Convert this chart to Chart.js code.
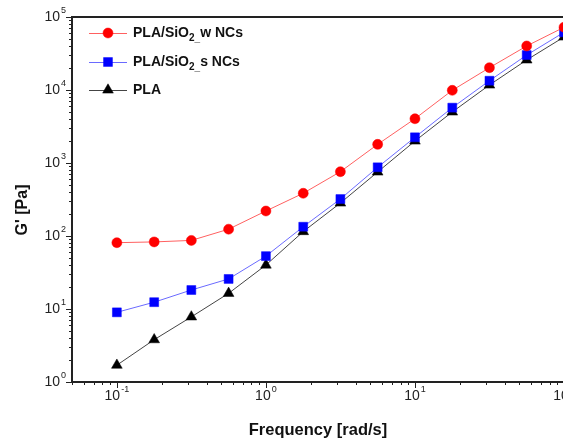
<!DOCTYPE html>
<html>
<head>
<meta charset="utf-8">
<script src="https://cdn.jsdelivr.net/npm/chart.js@4/dist/chart.umd.min.js"></script>
<style>
  html, body { margin: 0; padding: 0; background: #fff; overflow: hidden; }
  #wrap { width: 620px; height: 443px; }
</style>
</head>
<body>
<div id="wrap"><canvas id="chart" width="620" height="443"></canvas></div>
<script>
// angular frequency sweep, rad/s
const freq = [0.1, 0.178, 0.316, 0.562, 1, 1.78, 3.16, 5.62, 10, 17.8, 31.6, 56.2, 100];

// storage modulus G' in Pa
const gWNCs = [81, 83, 87, 124, 220, 385, 760, 1800, 4040, 9900, 20200, 40100, 72300];
const gSNCs = [9.0, 12.4, 18.2, 25.8, 53, 134, 321, 873, 2250, 5730, 13400, 30100, 61700];
const gPLA  = [1.7, 3.8, 7.8, 16.4, 40, 115, 283, 753, 2000, 5000, 11700, 25800, 53200];

const seriesNames = ['PLA/SiO₂_w NCs', 'PLA/SiO₂_s NCs', 'PLA'];

// decade exponents that get a "10^n" label
const xDecades = [-1, 0, 1, 2];
const yDecades = [0, 1, 2, 3, 4, 5];

const yTitle = "G' [Pa]";

function toPoints(ys) {
  return freq.map((f, i) => ({ x: f, y: ys[i] }));
}

const FONT = '"Liberation Sans", Arial, sans-serif';

// draws "10" with a raised exponent; align is 'center' or 'right'
function drawPow(ctx, exp, x, y, align) {
  const base = '10', sup = String(exp);
  ctx.font = '14px ' + FONT;
  const wb = ctx.measureText(base).width;
  ctx.font = '9px ' + FONT;
  const ws = ctx.measureText(sup).width;
  const total = wb + 1 + ws;
  let left = align === 'right' ? x - total : x - total / 2;
  ctx.textAlign = 'left';
  ctx.textBaseline = 'middle';
  ctx.fillStyle = '#222';
  ctx.font = '14px ' + FONT;
  ctx.fillText(base, left, y);
  ctx.font = '9px ' + FONT;
  ctx.fillText(sup, left + wb + 1, y - 6);
}

// frame, tick marks, tick labels, y title and the inset legend
const framePlugin = {
  id: 'frame',
  afterDraw(chart) {
    const { ctx, chartArea: a, scales } = chart;
    ctx.save();
    ctx.strokeStyle = '#222';
    ctx.lineWidth = 2;
    ctx.strokeRect(a.left, a.top, a.right - a.left, a.bottom - a.top);

    ctx.lineWidth = 1;
    ctx.beginPath();
    for (let d = -2; d <= 5; d++) {
      for (let m = 1; m <= 9; m++) {
        const v = m * Math.pow(10, d);
        const len = m === 1 ? 6 : 3;
        if (v >= scales.x.min - 1e-9 && v <= scales.x.max + 1e-9) {
          const px = Math.round(scales.x.getPixelForValue(v)) + 0.5;
          ctx.moveTo(px, a.bottom);
          ctx.lineTo(px, a.bottom + len);
        }
        if (v >= scales.y.min - 1e-9 && v <= scales.y.max + 1e-9) {
          const py = Math.round(scales.y.getPixelForValue(v)) + 0.5;
          ctx.moveTo(a.left, py);
          ctx.lineTo(a.left - len, py);
        }
      }
    }
    ctx.stroke();

    xDecades.forEach(e => {
      drawPow(ctx, e, scales.x.getPixelForValue(Math.pow(10, e)), a.bottom + 14, 'center');
    });
    yDecades.forEach(e => {
      drawPow(ctx, e, a.left - 6, scales.y.getPixelForValue(Math.pow(10, e)), 'right');
    });

    // y axis title, sits a little below the middle of the axis
    ctx.save();
    ctx.translate(23, 210);
    ctx.rotate(-Math.PI / 2);
    ctx.font = 'bold 16px ' + FONT;
    ctx.fillStyle = '#111';
    ctx.textAlign = 'center';
    ctx.textBaseline = 'middle';
    ctx.fillText(yTitle, 0, 0);
    ctx.restore();

    // legend
    const rows = [33, 62, 90];
    chart.data.datasets.forEach((ds, i) => {
      const y = rows[i];
      ctx.strokeStyle = ds.borderColor;
      ctx.lineWidth = 1;
      ctx.beginPath();
      ctx.moveTo(89, y + 0.5);
      ctx.lineTo(127, y + 0.5);
      ctx.stroke();
      ctx.fillStyle = ds.pointBackgroundColor;
      ctx.strokeStyle = ds.pointBorderColor;
      ctx.lineWidth = ds.pointBorderWidth;
      Chart.helpers.drawPoint(ctx, { pointStyle: ds.pointStyle, radius: ds.pointRadius, borderWidth: ds.pointBorderWidth }, 108, y);

      ctx.fillStyle = '#111';
      ctx.textBaseline = 'middle';
      ctx.textAlign = 'left';
      let x = 133;
      const parts = ds.label.split('₂');
      ctx.font = 'bold 14px ' + FONT;
      ctx.fillText(parts[0], x, y);
      x += ctx.measureText(parts[0]).width;
      if (parts.length > 1) {
        const rest = parts[1];
        ctx.font = 'bold 10px ' + FONT;
        ctx.fillText('2_', x, y + 5);
        x += ctx.measureText('2_').width;
        ctx.font = 'bold 14px ' + FONT;
        ctx.fillText(rest.replace(/^_/, ''), x, y);
      }
    });
    ctx.restore();
  }
};

new Chart(document.getElementById('chart'), {
  type: 'line',
  data: {
    datasets: [
      {
        label: seriesNames[0],
        data: toPoints(gWNCs),
        borderColor: '#ff6060',
        borderWidth: 1,
        pointStyle: 'circle',
        pointRadius: 5,
        pointBackgroundColor: '#ff0000',
        pointBorderColor: '#ff0000',
        pointBorderWidth: 0.5
      },
      {
        label: seriesNames[1],
        data: toPoints(gSNCs),
        borderColor: '#6a6aff',
        borderWidth: 1,
        pointStyle: 'rect',
        pointRadius: 6.3,
        pointBackgroundColor: '#0000ff',
        pointBorderColor: '#0000ff',
        pointBorderWidth: 0.5
      },
      {
        label: seriesNames[2],
        data: toPoints(gPLA),
        borderColor: '#444444',
        borderWidth: 1,
        pointStyle: 'triangle',
        pointRadius: 6.2,
        pointBackgroundColor: '#000000',
        pointBorderColor: '#000000',
        pointBorderWidth: 0.5
      }
    ]
  },
  options: {
    responsive: false,
    animation: false,
    devicePixelRatio: 1,
    layout: { padding: { top: 17, right: 56, bottom: 0, left: 0 } },
    plugins: {
      legend: { display: false },
      tooltip: { enabled: false }
    },
    scales: {
      x: {
        type: 'logarithmic',
        min: 0.05,
        max: 100,
        grid: { display: false },
        border: { display: false },
        ticks: { display: false },
        title: {
          display: true,
          text: 'Frequency [rad/s]',
          color: '#111',
          font: { family: FONT, size: 16.5, weight: 'bold' },
          padding: { top: 0, bottom: 3 }
        },
        afterFit: (s) => { s.height = 61; }
      },
      y: {
        type: 'logarithmic',
        min: 1,
        max: 100000,
        grid: { display: false },
        border: { display: false },
        ticks: { display: false },
        title: { display: false },
        afterFit: (s) => { s.width = 72; }
      }
    }
  },
  plugins: [framePlugin]
});
</script>
</body>
</html>
